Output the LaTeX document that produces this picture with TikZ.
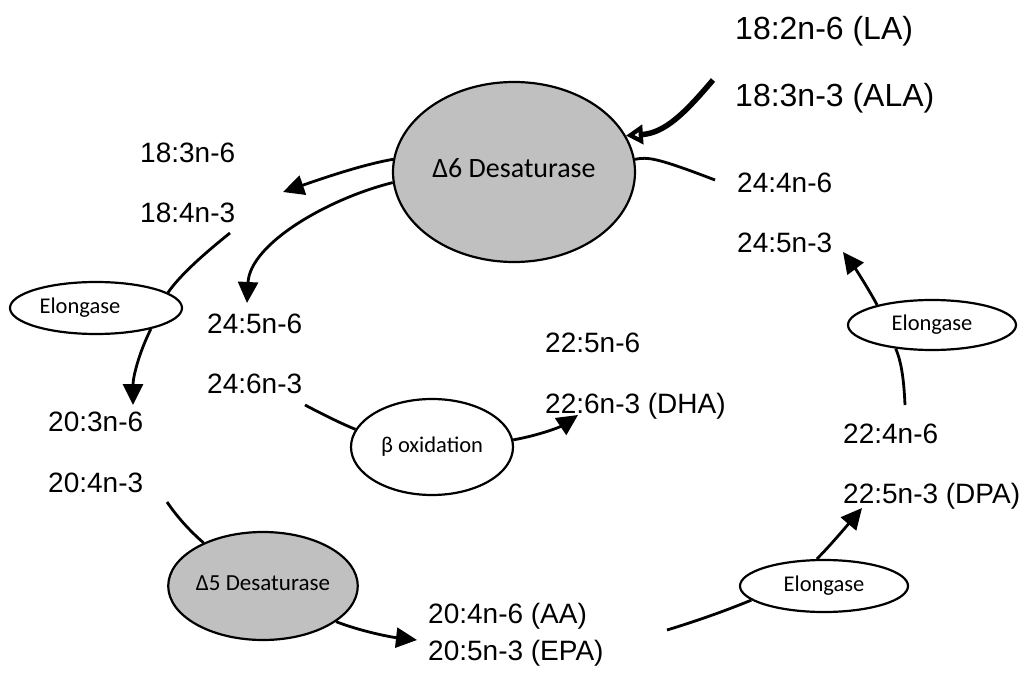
\documentclass[tikz,border=0pt]{standalone}
\usepackage{fontspec}
\setmainfont{Liberation Sans}
\newfontfamily\calib{Carlito}
\usetikzlibrary{shapes.geometric,arrows.meta}
\definecolor{enzgray}{HTML}{C0C0C0}
\begin{document}
\begin{tikzpicture}[x=1pt,y=1pt,
  acid/.style={anchor=base west, inner sep=0pt, font=\fontsize{28}{30}\selectfont},
  bigacid/.style={acid, font=\fontsize{32}{34}\selectfont},
  enz/.style={ellipse, draw, line width=2.2pt, inner sep=0pt, fill=white},
  desat/.style={enz, fill=enzgray},
  conn/.style={line width=2.8pt},
  arr/.style={conn, -{Triangle[length=21pt,width=20pt]}},
]
\useasboundingbox (0,0) rectangle (1030,673);

% enzymes
\node[desat, minimum width=242pt, minimum height=180pt, font=\calib\fontsize{28}{30}\selectfont] (d6) at (514,501) {\raisebox{7pt}{Δ6 Desaturase}};
\node[desat, minimum width=184pt, minimum height=108pt, font=\calib\fontsize{23}{25}\selectfont] (d5) at (263,87) {\raisebox{6pt}{Δ5 Desaturase}};
\node[enz, minimum width=162pt, minimum height=96pt, font=\calib\fontsize{22.5}{24}\selectfont] (beta) at (432,226) {β oxidation};
\node[enz, minimum width=172pt, minimum height=52pt, font=\calib\fontsize{22.5}{24}\selectfont] (el1) at (96,365) {\hspace*{-32pt}Elongase};
\node[enz, minimum width=168pt, minimum height=50pt, font=\calib\fontsize{22.5}{24}\selectfont] (el2) at (932,348) {Elongase};
\node[enz, minimum width=168pt, minimum height=52pt, font=\calib\fontsize{22.5}{24}\selectfont] (el3) at (824,87) {Elongase};

% fatty acids
\node[bigacid] (la) at (735,633) {18:2n-6 (LA)};
\node[bigacid] (ala) at (735,566) {18:3n-3 (ALA)};
\node[acid] (a2446) at (737,480) {24:4n-6};
\node[acid] (a2453) at (737,420) {24:5n-3};
\node[acid] (a1836) at (140,510) {18:3n-6};
\node[acid] (a1843) at (140,450) {18:4n-3};
\node[acid] (a2456) at (207,340) {24:5n-6};
\node[acid] (a2463) at (207,280) {24:6n-3};
\node[acid] (a2036) at (48,242) {20:3n-6};
\node[acid] (a2043) at (48,181) {20:4n-3};
\node[acid] (a2256) at (545,321) {22:5n-6};
\node[acid] (dha) at (545,260) {22:6n-3 (DHA)};
\node[acid] (a2246) at (843,230) {22:4n-6};
\node[acid] (dpa) at (843,170) {22:5n-3 (DPA)};
\node[acid] (aa) at (428,50) {20:4n-6 (AA)};
\node[acid] (epa) at (428,13) {20:5n-3 (EPA)};

% free ends of connectors
\coordinate (s1) at (713,593);
\coordinate (e2) at (715,493);
\coordinate (t1) at (283,481);
\coordinate (t2) at (247,370);
\coordinate (s3) at (230,440);
\coordinate (t3) at (133,268);
\coordinate (s4) at (305,268);
\coordinate (t4) at (578,258);
\coordinate (s5) at (167,171);
\coordinate (t5) at (417,33);
\coordinate (s6) at (667,43);
\coordinate (t6) at (862,165);
\coordinate (s7) at (905,268);
\coordinate (t7) at (843,421);

% connectors
\draw[line width=5.5pt, -{Triangle[open,length=17pt,width=19pt]}] (s1) .. controls (685,560) and (665,540) .. (d6.18);
\draw[conn] (d6.6) .. controls (648,516) and (655,516) .. (e2);
\draw[arr] (d6.174) .. controls (360,508) and (315,492) .. (t1);
\draw[arr] (d6.185) .. controls (330,475) and (250,430) .. (t2);
\draw[conn] (s3) .. controls (205,420) and (180,398) .. (el1.12);
\draw[arr] (el1.-21) .. controls (138,318) and (133,295) .. (t3);
\draw[conn] (s4) .. controls (322,259) and (340,250) .. (beta.167);
\draw[arr] (beta.5) .. controls (540,238) and (560,246) .. (t4);
\draw[conn] (s5) .. controls (178,155) and (190,142) .. (d5.144);
\draw[arr] (d5.-26) .. controls (360,42) and (390,36) .. (t5);
\draw[conn] (s6) .. controls (690,50) and (720,60) .. (el3.191);
\draw[arr] (el3.105) .. controls (828,125) and (845,145) .. (t6);
\draw[conn] (s7) .. controls (904,290) and (902,310) .. (el2.213);
\draw[arr] (el2.160) .. controls (868,385) and (855,405) .. (t7);
\end{tikzpicture}
\end{document}
